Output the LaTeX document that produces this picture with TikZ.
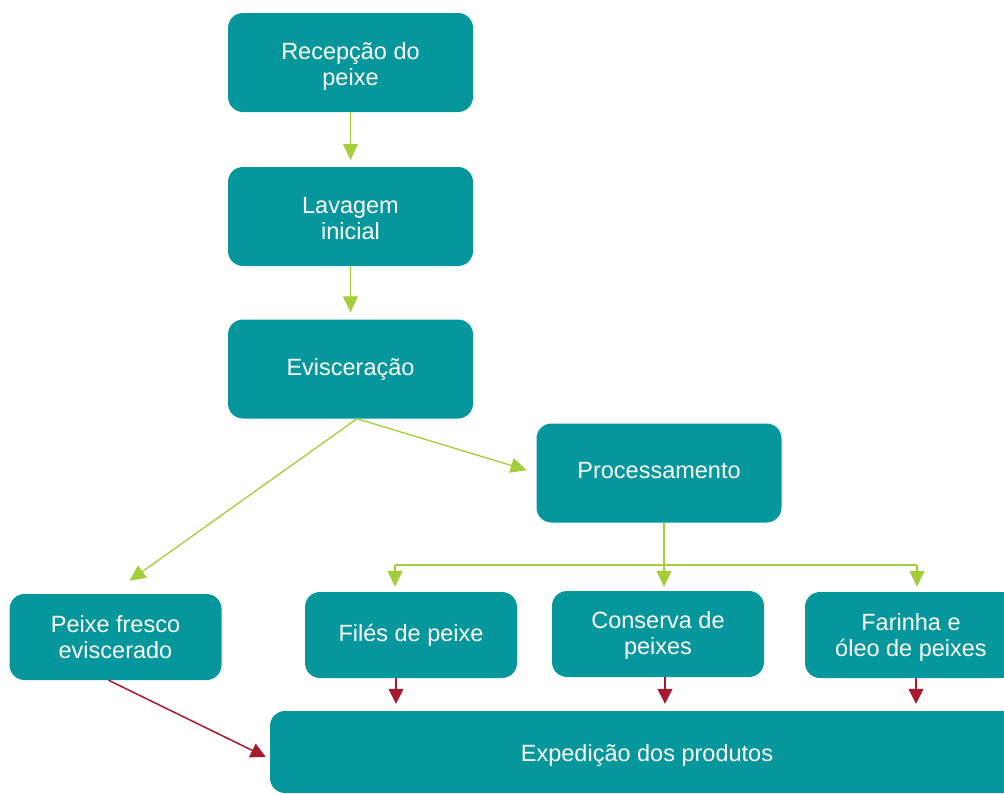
\documentclass[tikz,border=0pt]{standalone}
\usepackage{fontspec}
\setmainfont{Liberation Sans}
\usetikzlibrary{arrows.meta,calc}
\definecolor{tealbox}{HTML}{05979B}
\definecolor{grn}{HTML}{A5CD39}
\definecolor{redd}{HTML}{A6192E}
\newcommand{\tup}[1]{\rule{0pt}{#1}}
\newcommand{\tdn}[1]{\rule[-#1]{0pt}{#1}}
\begin{document}
\begin{tikzpicture}[x=1pt,y=-1pt,
  box/.style={fill=tealbox, rounded corners=15pt, text=white, align=center,
    font=\fontsize{23.5}{26}\selectfont, inner sep=0pt},
  bigbox/.style={box, minimum width=245pt, minimum height=99pt},
  smallbox/.style={box, minimum width=212pt, minimum height=86pt},
  gline/.style={draw=grn, line width=1.3pt},
  garrow/.style={gline, -{Triangle[width=15pt,length=16pt]}},
  rarrow/.style={draw=redd, line width=1.5pt, -{Triangle[width=15pt,length=15pt]}}]
\useasboundingbox (0,0) rectangle (1004,793);
\clip (0,0) rectangle (1004,793);

\node[bigbox] (rec) at (350.5,62.5) {\tup{25pt}Recepção do\\peixe};
\node[bigbox] (lav) at (350.5,216.5) {\tup{21pt}Lavagem\\inicial};
\node[bigbox] (evi) at (350.5,369) {Evisceração};
\node[bigbox] (proc) at (659,473) {Processamento\tdn{5pt}};
\node[smallbox] (pf) at (115.5,637) {Peixe fresco\\eviscerado};
\node[smallbox] (fil) at (411,635) {Filés de peixe};
\node[smallbox] (con) at (658,634) {\tup{20.3pt}Conserva de\\peixes};
\node[smallbox] (far) at (911,635) {\tup{21pt}Farinha e\\óleo de peixes};
\node[box, minimum width=754pt, minimum height=82pt] (exp) at (647,752) {\tup{24.2pt}Expedição dos produtos};

% green connectors
\draw[garrow, shorten >=7pt] (rec.south) -- (lav.north);
\draw[garrow, shorten >=7pt] (lav.south) -- (evi.north);
\coordinate (ev0) at ($(evi.south)+(6.5,0)$);
\coordinate (pftip) at ($(pf.north)+(14,-13)$);
\draw[garrow] (ev0) -- (pftip);
\draw[garrow, shorten >=10pt] (ev0) -- (proc.west);

\coordinate (cj) at (664,565);
\coordinate (fj) at (395,565);
\coordinate (rj) at (917,565);
\draw[gline] (fj) -- (rj);
\draw[garrow, shorten >=4pt] (cj |- proc.south) -- (cj |- con.north);
\draw[garrow, shorten >=5pt] (fj) -- (fj |- fil.north);
\draw[garrow, shorten >=5pt] (rj) -- (rj |- far.north);

% red connectors
\coordinate (r1) at (396,0);
\coordinate (r2) at (665,0);
\coordinate (r3) at (916,0);
\draw[rarrow, shorten >=7pt] (r1 |- fil.south) -- (r1 |- exp.north);
\draw[rarrow, shorten >=7pt] (r2 |- con.south) -- (r2 |- exp.north);
\draw[rarrow, shorten >=7pt] (r3 |- far.south) -- (r3 |- exp.north);
\draw[rarrow] ($(pf.south)+(-7,0)$) -- ($(exp.west)+(-4,5)$);
\end{tikzpicture}
\end{document}
